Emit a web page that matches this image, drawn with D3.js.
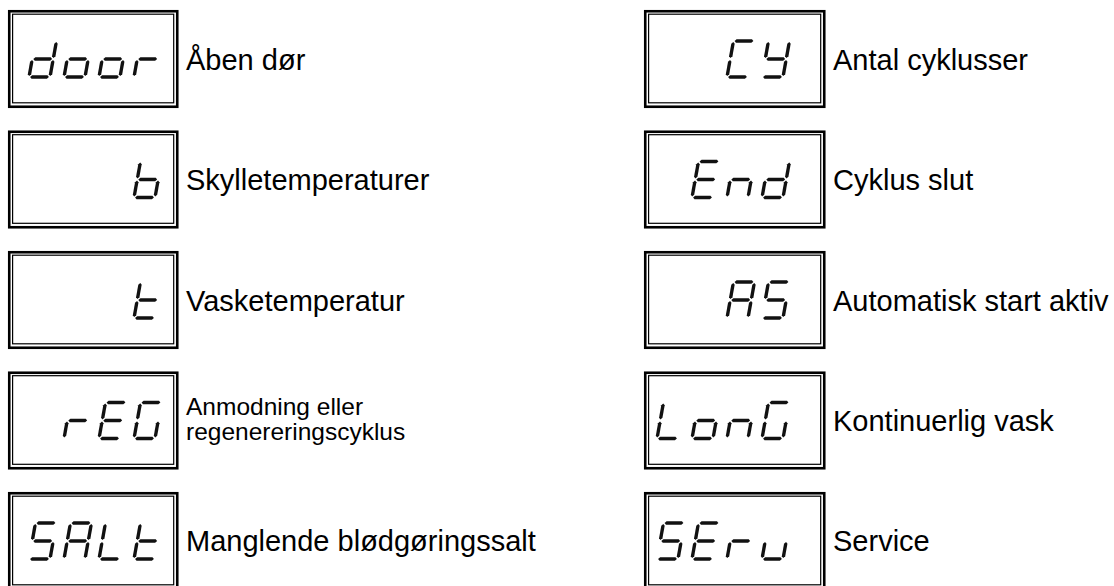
<!DOCTYPE html>
<html>
<head>
<meta charset="utf-8">
<script src="https://cdn.jsdelivr.net/npm/d3@7"></script>
<style>
  html, body { margin: 0; padding: 0; background: #fff; }
  svg { display: block; }
</style>
</head>
<body>
<svg id="chart" width="1114" height="586"></svg>
<script>
// ---------------- data ----------------
const leftCodes   = ["door", "b", "t", "rEG", "SALt"];
const leftLabels  = ["Åben dør", "Skylletemperaturer", "Vasketemperatur",
                     "Anmodning eller\nregenereringscyklus", "Manglende blødgøringssalt"];
const rightCodes  = ["CY", "End", "AS", "LonG", "SErv"];
const rightLabels = ["Antal cyklusser", "Cyklus slut", "Automatisk start aktiv",
                     "Kontinuerlig vask", "Service"];
// seven-segment encoding of each character used on the display
const segChars = ["d","o","r","b","t","E","G","S","A","L","C","Y","n","u","v"];
const segCodes = ["bcdeg","cdeg","eg","cdefg","defg","adefg","acdef","acdfg","abcefg","def","adef","bcdfg","ceg","cde","cde"];

// ---------------- layout ----------------
const W = 1114, H = 586;
const svg = d3.select("#chart");
svg.append("rect").attr("width", W).attr("height", H).attr("fill", "#fff");

const rowIdx = d3.range(leftCodes.length);
const y = d3.scaleBand().domain(rowIdx).range([10, 590]).paddingInner(0.1867).paddingOuter(0);

const columns = [
  { codes: leftCodes,  labels: leftLabels,  x0: 8,   x1: 178.5, firstSlot: 21 },
  { codes: rightCodes, labels: rightLabels, x0: 644, x1: 825.5, firstSlot: 13 }
];

const segMap = new Map(segChars.map((c, i) => [c, segCodes[i]]));

// digit geometry
const DW = 21, DH = 36, T = 3.4, GAP = 1.1, SLANT = 0.18, PITCH = 35;
const corners = {
  TL: [0, -DH], TR: [DW, -DH], ML: [0, -DH / 2], MR: [DW, -DH / 2], BL: [0, 0], BR: [DW, 0]
};
const segEnds = {
  a: ["TL", "TR"], g: ["ML", "MR"], d: ["BL", "BR"],
  f: ["TL", "ML"], b: ["TR", "MR"], e: ["ML", "BL"], c: ["MR", "BR"]
};
function segPoly(seg) {
  const [p, q] = segEnds[seg].map(k => corners[k]);
  const len = Math.hypot(q[0] - p[0], q[1] - p[1]);
  const u = [(q[0] - p[0]) / len, (q[1] - p[1]) / len];
  const n = [-u[1], u[0]];
  const h = T / 2;
  const pts = [
    [p[0] + u[0] * GAP, p[1] + u[1] * GAP],
    [p[0] + u[0] * (GAP + h) + n[0] * h, p[1] + u[1] * (GAP + h) + n[1] * h],
    [q[0] - u[0] * (GAP + h) + n[0] * h, q[1] - u[1] * (GAP + h) + n[1] * h],
    [q[0] - u[0] * GAP, q[1] - u[1] * GAP],
    [q[0] - u[0] * (GAP + h) - n[0] * h, q[1] - u[1] * (GAP + h) - n[1] * h],
    [p[0] + u[0] * (GAP + h) - n[0] * h, p[1] + u[1] * (GAP + h) - n[1] * h]
  ];
  return pts.map(([px, py]) => [px + SLANT * (-py), py]);
}
const line = d3.line().curve(d3.curveLinearClosed);

columns.forEach(col => {
  const g = svg.append("g");
  rowIdx.forEach(i => {
    const top = y(i), bot = y(i) + y.bandwidth();
    const cy = (top + bot) / 2;
    // double frame
    g.append("rect")
      .attr("x", col.x0 + 1.25).attr("y", top + 1.25)
      .attr("width", col.x1 - col.x0 - 2.5).attr("height", bot - top - 2.5)
      .attr("fill", "none").attr("stroke", "#000").attr("stroke-width", 2.6);
    g.append("rect")
      .attr("x", col.x0 + 4.6).attr("y", top + 4.2)
      .attr("width", col.x1 - col.x0 - 9.4).attr("height", bot - top - 9.4)
      .attr("fill", "none").attr("stroke", "#000").attr("stroke-width", 1.2);

    // seven-segment code, right aligned in 4 slots
    const code = col.codes[i].padStart(4, " ");
    const base = cy + DH / 2;
    code.split("").forEach((ch, k) => {
      const segs = segMap.get(ch);
      if (!segs) return;
      const dx = col.x0 + col.firstSlot + k * PITCH;
      const dg = g.append("g").attr("transform", `translate(${dx},${base})`);
      dg.selectAll("path").data(segs.split("")).join("path")
        .attr("d", s => line(segPoly(s)))
        .attr("fill", "#111");
    });

    // label
    const lines = col.labels[i].split("\n");
    const tx = col.x1 + 7.5;
    if (lines.length === 1) {
      g.append("text")
        .attr("x", tx).attr("y", cy + 10.5)
        .attr("font-family", "Liberation Sans, Arial, sans-serif")
        .attr("font-size", 29).attr("fill", "#000")
        .text(lines[0]);
    } else {
      const t = g.append("text")
        .attr("font-family", "Liberation Sans, Arial, sans-serif")
        .attr("font-size", 24.5).attr("fill", "#000");
      lines.forEach((l, j) => {
        t.append("tspan").attr("x", tx).attr("y", cy - 5.5 + j * 25).text(l);
      });
    }
  });
});
</script>
</body>
</html>
